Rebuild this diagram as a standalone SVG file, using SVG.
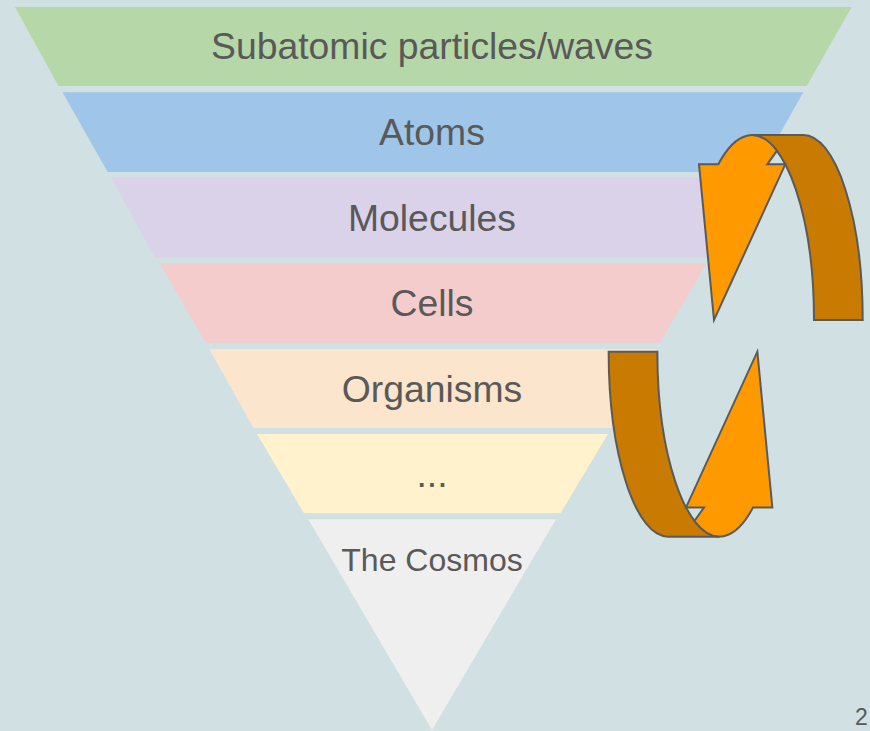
<svg xmlns="http://www.w3.org/2000/svg" width="870" height="731" viewBox="0 0 870 731">
  <defs>
    <style>
      .lbl { font-family: "Liberation Sans", Arial, sans-serif; font-size: 37.33px; fill: #595959; text-anchor: middle; }
      .lbl-s { font-family: "Liberation Sans", Arial, sans-serif; font-size: 32px; fill: #595959; text-anchor: middle; }
      .arr { stroke: #5a5a5a; stroke-width: 2; stroke-linejoin: miter; }
      .dark { fill: #c97a00; }
      .light { fill: #ff9900; }
    </style>
    <g id="curvedArrow">
      <path class="arr dark" d="M 751.7,135 L 803.3,135 A 59.4,185 0 0 1 862.7,320 L 814,320 A 62.3,185 0 0 0 751.7,135 Z"/>
      <path class="arr light" d="M 699,164.3 L 718.3,164.3 A 62.3,185 0 0 1 776.9,150.7 L 767.3,164.3 L 785.3,164.3 L 714,320 Z"/>
    </g>
  </defs>
  <rect x="0" y="0" width="870" height="731" fill="#d0e0e3"/>

  <g id="band-subatomic">
    <polygon points="15,7 851.7,7 806.7,86 58.5,86" fill="#b6d7a8"/>
    <text class="lbl" x="432" y="59.3">Subatomic particles/waves</text>
  </g>
  <g id="band-atoms">
    <polygon points="62.5,92.3 803.3,92.3 758.5,172 107.7,172" fill="#9fc5e8"/>
    <text class="lbl" x="432" y="145">Atoms</text>
  </g>
  <g id="band-molecules">
    <polygon points="111,177.5 755,177.5 710.5,257.5 155,257.5" fill="#d9d2e9"/>
    <text class="lbl" x="432" y="230.5">Molecules</text>
  </g>
  <g id="band-cells">
    <polygon points="159.5,263 706.5,263 660,342.7 205.7,342.7" fill="#f4cccc"/>
    <text class="lbl" x="432" y="316">Cells</text>
  </g>
  <g id="band-organisms">
    <polygon points="209.3,349 656.7,349 612,428 253.5,428" fill="#fce5cd"/>
    <text class="lbl" x="432" y="401.5">Organisms</text>
  </g>
  <g id="band-ellipsis">
    <polygon points="257,434 608,434 560.5,513.3 304,513.3" fill="#fff2cc"/>
    <text class="lbl" x="432" y="487">...</text>
  </g>
  <g id="band-cosmos">
    <polygon points="308.3,519.3 556,519.3 432,730" fill="#efefef"/>
    <text class="lbl-s" x="432" y="570.7">The Cosmos</text>
  </g>

  <g id="connectors">
    <use href="#curvedArrow"/>
    <use href="#curvedArrow" transform="translate(1471.35 671.7) rotate(180)"/>
  </g>

  <text x="855" y="725" font-family="Liberation Sans, Arial, sans-serif" font-size="23px" fill="#595959">2</text>
</svg>
